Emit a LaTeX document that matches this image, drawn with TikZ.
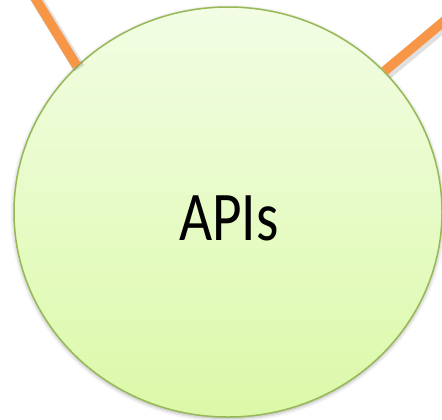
\documentclass[tikz,border=0pt]{standalone}
\usepackage{fontspec}
\setmainfont{Carlito}
\usetikzlibrary{shapes.geometric,shadows.blur}
\definecolor{ApiBorder}{RGB}{150,185,85}
\definecolor{ApiTop}{RGB}{242,253,228}
\definecolor{ApiBottom}{RGB}{219,249,168}
\definecolor{LinkOrange}{RGB}{247,150,70}

\begin{document}
\begin{tikzpicture}[x=1bp,y=-1bp,
    apinode/.style={ellipse,draw=ApiBorder,line width=1.5bp,
      top color=ApiTop,bottom color=ApiBottom,
      minimum width=428bp,minimum height=410bp,inner sep=0pt,
      blur shadow={shadow xshift=0bp,shadow yshift=-1.5bp,
        shadow blur radius=4bp,shadow opacity=35}},
    link/.style={LinkOrange,line width=9.5bp},
    linkshadow/.style={black,opacity=0.12,line width=12bp}]
  \useasboundingbox (0,0) rectangle (442,419);
  \clip (0,0) rectangle (442,419);
  % far ends of the two links
  \coordinate (leftend) at (29,-12);
  \coordinate (rightend) at (455,12);
  \node[apinode] (apis) at (228,212) {};
  \node (apilabel) at (229,218)
    {\fontsize{70}{80}\selectfont\scalebox{0.82}[1]{APIs}};
  % links into the circle
  \draw[linkshadow] ([shift={(2.5,2.5)}]leftend) -- ([shift={(2.5,2.5)}]apis.136);
  \draw[linkshadow] ([shift={(2.5,2.5)}]rightend) -- ([shift={(2.5,2.5)}]apis.42.5);
  \draw[link] (leftend) -- (apis.136);
  \draw[link] (rightend) -- (apis.42.5);
\end{tikzpicture}
\end{document}
